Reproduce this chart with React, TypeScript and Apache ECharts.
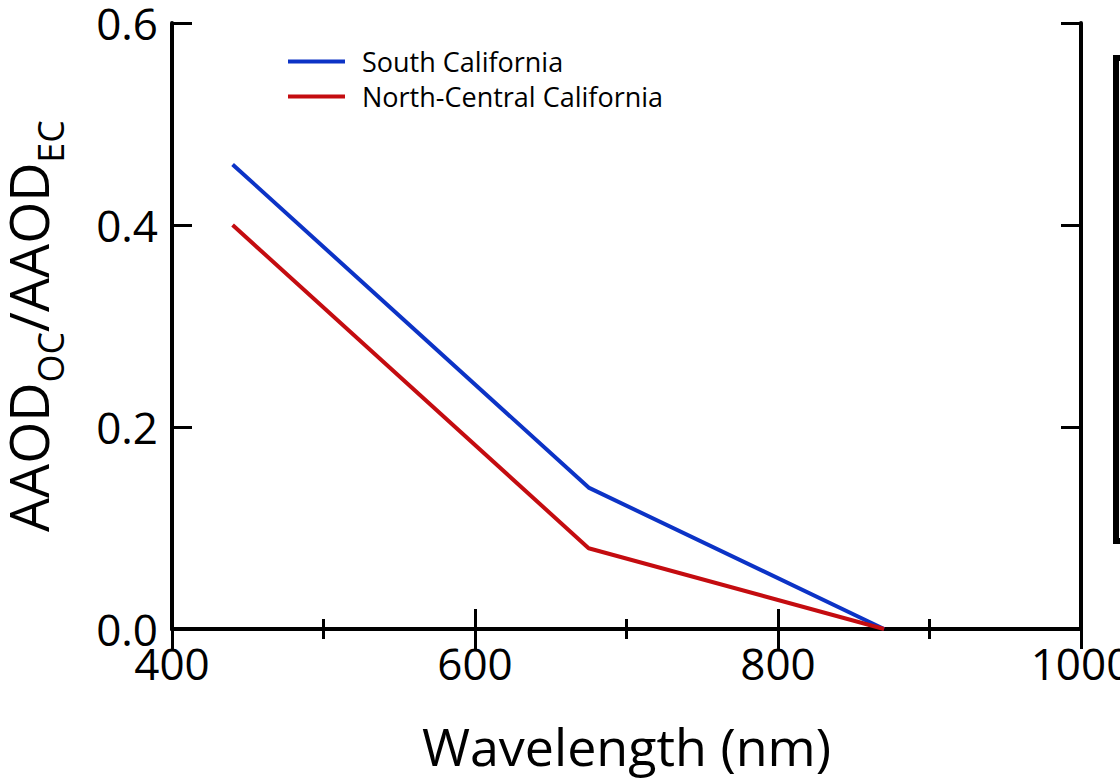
import React, { useEffect, useRef } from "react";
import * as echarts from "echarts";

const wavelengths = [440, 675, 870];
const southCalifornia = [0.46, 0.14, 0.0];
const northCentralCalifornia = [0.4, 0.08, 0.0];
const seriesNames = ["South California", "North-Central California"];
const xTicks = { min: 400, max: 1000, interval: 200 };
const yTicks = { min: 0, max: 0.6, interval: 0.2 };

const FONT = "Open Sans";

export default function App() {
  const ref = useRef<HTMLDivElement>(null);
  useEffect(() => {
    if (!ref.current) return;
    const chart = echarts.init(ref.current, null, { renderer: "svg" });
    const axisLine = { show: true, lineStyle: { color: "#000", width: 4 } };
    const tick = { show: true, inside: true, length: 20, lineStyle: { color: "#000", width: 3 } };
    const minorTick = { show: true, splitNumber: 2, length: 10, lineStyle: { color: "#000", width: 3 } };
    const subStyle = { fontSize: 36, lineHeight: 42, verticalAlign: "bottom", fontFamily: FONT, color: "#000" };
    const mainStyle = { fontSize: 54, lineHeight: 80, fontFamily: FONT, color: "#000" };
    chart.setOption({
      animation: false,
      backgroundColor: "#fff",
      textStyle: { fontFamily: FONT },
      grid: { left: 172, right: 39, top: 23, bottom: 151, containLabel: false, outerBoundsMode: "none" },
      legend: {
        orient: "vertical",
        left: 283,
        top: 43,
        itemWidth: 57,
        itemHeight: 4,
        itemGap: 8,
        icon: "rect",
        data: seriesNames,
        textStyle: { fontSize: 27, color: "#000", fontFamily: FONT, padding: [0, 0, 0, 12] },
      },
      xAxis: [
        {
          type: "value",
          min: xTicks.min,
          max: xTicks.max,
          interval: xTicks.interval,
          position: "bottom",
          axisLine,
          axisTick: tick,
          minorTick,
          splitLine: { show: false },
          axisLabel: { fontSize: 44, color: "#000", margin: 12, fontFamily: FONT, formatter: (v: number) => String(v) },
          name: "Wavelength (nm)",
          nameLocation: "middle",
          nameGap: 90,
          nameTextStyle: { fontSize: 52, color: "#000", fontFamily: FONT },
        },
        {
          type: "value",
          min: xTicks.min,
          max: xTicks.max,
          interval: xTicks.interval,
          position: "top",
          axisLine,
          axisTick: tick,
          minorTick,
          splitLine: { show: false },
          axisLabel: { show: false },
        },
      ],
      yAxis: [
        {
          type: "value",
          min: yTicks.min,
          max: yTicks.max,
          interval: yTicks.interval,
          position: "left",
          axisLine,
          axisTick: tick,
          splitLine: { show: false },
          axisLabel: {
            fontSize: 44,
            color: "#000",
            margin: 14,
            fontFamily: FONT,
            formatter: (v: number) => v.toFixed(1),
          },
          name: "{m|AAOD}{s|OC}{m|/AAOD}{s|EC}",
          nameLocation: "middle",
          nameGap: 104,
          nameRotate: 90,
          nameTextStyle: { rich: { m: mainStyle, s: subStyle } },
        },
        {
          type: "value",
          min: yTicks.min,
          max: yTicks.max,
          interval: yTicks.interval,
          position: "right",
          axisLine,
          axisTick: tick,
          splitLine: { show: false },
          axisLabel: { show: false },
        },
      ],
      graphic: [
        {
          type: "rect",
          shape: { x: 1116, y: 58, width: 40, height: 483 },
          style: { fill: "none", stroke: "#000", lineWidth: 6 },
        },
      ],
      series: [
        {
          name: seriesNames[0],
          type: "line",
          showSymbol: false,
          data: wavelengths.map((w, i) => [w, southCalifornia[i]]),
          lineStyle: { color: "#0c33c6", width: 4 },
          itemStyle: { color: "#0c33c6" },
        },
        {
          name: seriesNames[1],
          type: "line",
          showSymbol: false,
          data: wavelengths.map((w, i) => [w, northCentralCalifornia[i]]),
          lineStyle: { color: "#c40c10", width: 4 },
          itemStyle: { color: "#c40c10" },
        },
      ],
    });
    return () => chart.dispose();
  }, []);
  return (
    <div
      ref={ref}
      style={{ position: "fixed", left: 0, top: 0, width: 1120, height: 780, background: "#fff" }}
    />
  );
}
